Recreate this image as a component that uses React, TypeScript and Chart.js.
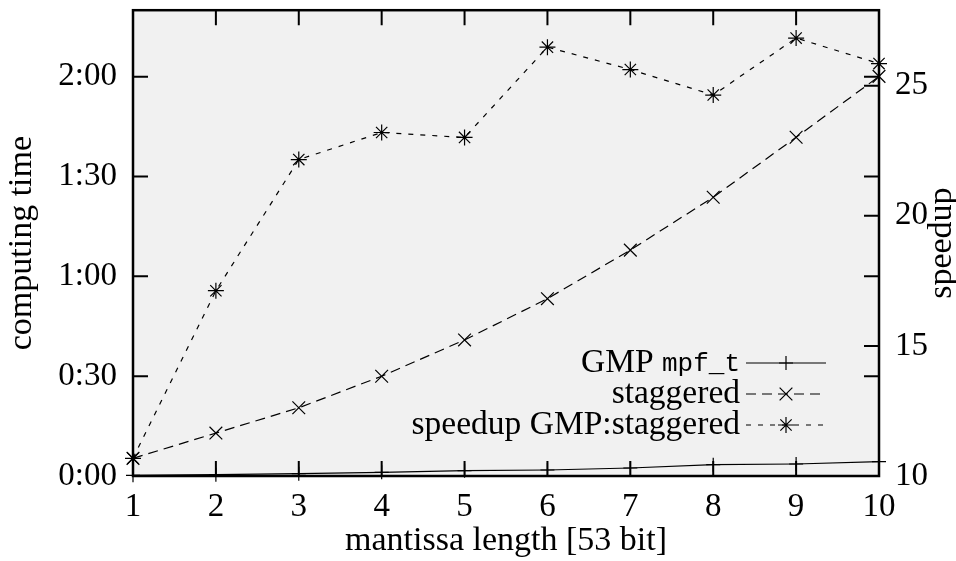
import React, { useEffect, useRef } from "react";
import { Chart, registerables } from "chart.js";

Chart.register(...registerables);

const mantissa = [1, 2, 3, 4, 5, 6, 7, 8, 9, 10];
const gmpSeconds = [0.2, 0.4, 0.7, 1.1, 1.6, 1.8, 2.4, 3.4, 3.6, 4.3];
const staggeredSeconds = [5.3, 12.9, 20.5, 30.0, 40.9, 53.3, 67.9, 83.8, 101.8, 120.1];
const speedupValues = [10.68, 17.12, 22.16, 23.2, 23.01, 26.48, 25.62, 24.64, 26.83, 25.85];
const timeTicks = [0, 30, 60, 90, 120];
const speedupTicks = [10, 15, 20, 25];
const legendSerif = ["GMP ", "staggered", "speedup GMP:staggered"];
const legendMono = ["mpf_t", "", ""];

const SERIF = "'Liberation Serif', 'Times New Roman', serif";
const MONO = "'Liberation Mono', 'DejaVu Sans Mono', monospace";
const FS = 33;

const fmtTime = (v: number) => `${Math.floor(v / 60)}:${String(v % 60).padStart(2, "0")}`;

function drawMarker(ctx: CanvasRenderingContext2D, style: string, x: number, y: number, r: number) {
  ctx.beginPath();
  if (style === "cross" || style === "star") {
    ctx.moveTo(x - r, y);
    ctx.lineTo(x + r, y);
    ctx.moveTo(x, y - r);
    ctx.lineTo(x, y + r);
  }
  if (style === "crossRot" || style === "star") {
    const d = r * 0.7071;
    ctx.moveTo(x - d, y - d);
    ctx.lineTo(x + d, y + d);
    ctx.moveTo(x - d, y + d);
    ctx.lineTo(x + d, y - d);
  }
  ctx.stroke();
}

const framePlugin = {
  id: "gnuplotFrame",
  beforeDatasetsDraw(chart: any) {
    const { ctx, chartArea: a } = chart;
    ctx.save();
    ctx.fillStyle = "#f1f1f1";
    ctx.fillRect(a.left, a.top, a.right - a.left, a.bottom - a.top);
    ctx.restore();
  },
  afterDatasetsDraw(chart: any) {
    const { ctx, chartArea: a, scales } = chart;
    const TL = 15;
    ctx.save();
    ctx.strokeStyle = "#000";
    ctx.lineWidth = 2;
    ctx.setLineDash([]);
    ctx.beginPath();
    for (const v of mantissa) {
      const px = scales.x.getPixelForValue(v);
      ctx.moveTo(px, a.bottom);
      ctx.lineTo(px, a.bottom - TL);
      ctx.moveTo(px, a.top);
      ctx.lineTo(px, a.top + TL);
    }
    for (const v of timeTicks) {
      const py = scales.y.getPixelForValue(v);
      ctx.moveTo(a.left, py);
      ctx.lineTo(a.left + TL, py);
      ctx.moveTo(a.right, py);
      ctx.lineTo(a.right - TL, py);
    }
    for (const v of speedupTicks) {
      const py = scales.y2.getPixelForValue(v);
      ctx.moveTo(a.right, py);
      ctx.lineTo(a.right - TL, py);
    }
    ctx.stroke();
    ctx.lineWidth = 2.5;
    ctx.strokeRect(a.left, a.top, a.right - a.left, a.bottom - a.top);

    // legend
    const rows = [363, 394, 425];
    const textRight = 740;
    const x0 = 746;
    const x1 = 826;
    chart.data.datasets.forEach((ds: any, i: number) => {
      const y = rows[i];
      ctx.fillStyle = "#000";
      ctx.textBaseline = "middle";
      ctx.textAlign = "right";
      let right = textRight;
      if (legendMono[i]) {
        ctx.font = `26px ${MONO}`;
        ctx.fillText(legendMono[i], right, y + 1);
        right -= ctx.measureText(legendMono[i]).width;
      }
      ctx.font = `33.5px ${SERIF}`;
      ctx.fillText(legendSerif[i], right, y);
      ctx.strokeStyle = "#000";
      ctx.lineWidth = 1.2;
      ctx.setLineDash(ds.borderDash || []);
      ctx.beginPath();
      ctx.moveTo(x0, y);
      ctx.lineTo(x1, y);
      ctx.stroke();
      ctx.setLineDash([]);
      drawMarker(ctx, ds.pointStyle, (x0 + x1) / 2, y, ds.pointRadius);
    });

    // right axis title
    ctx.save();
    ctx.translate(942, (a.top + a.bottom) / 2);
    ctx.rotate(-Math.PI / 2);
    ctx.textAlign = "center";
    ctx.textBaseline = "middle";
    ctx.font = `34px ${SERIF}`;
    ctx.fillStyle = "#000";
    ctx.fillText("speedup", 0, 0);
    ctx.restore();
    ctx.restore();
  },
};

export default function App() {
  const ref = useRef<HTMLCanvasElement | null>(null);
  useEffect(() => {
    if (!ref.current) return;
    const font = { family: SERIF, size: FS };
    const titleFont = { family: SERIF, size: 34 };
    const chart = new Chart(ref.current, {
      type: "line",
      data: {
        datasets: [
          {
            label: "GMP mpf_t",
            data: mantissa.map((m, i) => ({ x: m, y: gmpSeconds[i] })),
            yAxisID: "y",
            borderColor: "#000",
            borderWidth: 1.2,
            pointStyle: "cross",
            pointRadius: 7,
            pointBorderColor: "#000",
            pointBorderWidth: 1.2,
            borderDash: [],
            clip: false,
          },
          {
            label: "staggered",
            data: mantissa.map((m, i) => ({ x: m, y: staggeredSeconds[i] })),
            yAxisID: "y",
            borderColor: "#000",
            borderWidth: 1.2,
            pointStyle: "crossRot",
            pointRadius: 9,
            pointBorderColor: "#000",
            pointBorderWidth: 1.2,
            borderDash: [10, 6],
            clip: false,
          },
          {
            label: "speedup GMP:staggered",
            data: mantissa.map((m, i) => ({ x: m, y: speedupValues[i] })),
            yAxisID: "y2",
            borderColor: "#000",
            borderWidth: 1.2,
            pointStyle: "star",
            pointRadius: 8,
            pointBorderColor: "#000",
            pointBorderWidth: 1.2,
            borderDash: [5, 7],
            clip: false,
          },
        ] as any,
      },
      options: {
        animation: false,
        responsive: true,
        maintainAspectRatio: false,
        layout: { padding: { top: 7, left: 0, right: 0, bottom: 0 } },
        plugins: { legend: { display: false }, tooltip: { enabled: false } },
        scales: {
          x: {
            type: "linear",
            min: 1,
            max: 10,
            grid: { display: false, drawTicks: false },
            border: { display: false },
            afterBuildTicks: (s: any) => {
              s.ticks = mantissa.map((v) => ({ value: v }));
            },
            ticks: { font, color: "#000", padding: 12, maxRotation: 0, autoSkip: false },
            title: { display: true, text: "mantissa length [53 bit]", font: titleFont, color: "#000", padding: { top: 0, bottom: 0 } },
            afterFit: (s: any) => {
              s.height = 85;
              s.paddingLeft = 0;
              s.paddingRight = 0;
            },
          },
          y: {
            position: "left",
            min: 0,
            max: 140,
            grid: { display: false, drawTicks: false },
            border: { display: false },
            afterBuildTicks: (s: any) => {
              s.ticks = timeTicks.map((v) => ({ value: v }));
            },
            ticks: { font, color: "#000", padding: 16, callback: (v: any) => fmtTime(Number(v)) },
            title: { display: true, text: "computing time", font: titleFont, color: "#000", padding: { top: 2, bottom: 0 } },
            afterFit: (s: any) => {
              s.width = 133;
              s.paddingTop = 0;
              s.paddingBottom = 0;
            },
          },
          y2: {
            position: "right",
            min: 10,
            max: 27.9,
            grid: { display: false, drawTicks: false },
            border: { display: false },
            afterBuildTicks: (s: any) => {
              s.ticks = speedupTicks.map((v) => ({ value: v }));
            },
            ticks: { font, color: "#000", padding: 16 },
            afterFit: (s: any) => {
              s.width = 77;
              s.paddingTop = 0;
              s.paddingBottom = 0;
            },
          },
        },
      } as any,
      plugins: [framePlugin],
    });
    return () => chart.destroy();
  }, []);
  return (
    <div style={{ position: "absolute", left: 0, top: 0, width: 956, height: 561, background: "#fff" }}>
      <canvas ref={ref} />
    </div>
  );
}
